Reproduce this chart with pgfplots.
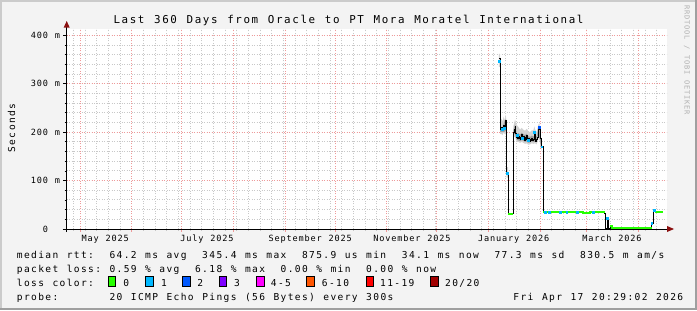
\documentclass[border=0pt]{standalone}
\usepackage{pgfplots}
\pgfplotsset{compat=1.18}
\usepackage{fontspec}
\setmainfont{DejaVu Sans Mono}
\ExplSyntaxOn
\dim_new:N \l_mono_pitch_dim
\cs_new_protected:Npn \mono #1#2
  {
    \dim_set:Nn \l_mono_pitch_dim {#1}
    \exp_args:No \tl_map_inline:nn {#2} { \makebox[\l_mono_pitch_dim][c]{##1} }
  }
\ExplSyntaxOff
\newcommand\TF{\fontsize{10.9pt}{12pt}\selectfont}
\newcommand\LF{\fontsize{9.6pt}{11pt}\selectfont}
\newcommand\AF{\fontsize{8.6pt}{10pt}\selectfont}
\newcommand\WF{\fontsize{7.03pt}{8pt}\selectfont}
\definecolor{bg}{HTML}{F3F3F3}
\definecolor{shA}{HTML}{CBCBCB}
\definecolor{shB}{HTML}{9F9F9F}
\definecolor{mgrid}{HTML}{EE9A9A}
\definecolor{mingrid}{HTML}{C8C8C8}
\definecolor{arrowc}{HTML}{8B1010}
\definecolor{wmc}{HTML}{B0B0B0}
\definecolor{c0}{HTML}{26FF00}
\definecolor{c1}{HTML}{00B8FF}
\definecolor{c2}{HTML}{0059FF}
\definecolor{c3}{HTML}{7E00FF}
\definecolor{c4}{HTML}{FF00FF}
\definecolor{c6}{HTML}{FF5500}
\definecolor{c11}{HTML}{FF0000}
\definecolor{c20}{HTML}{A10000}
\definecolor{smokeA}{HTML}{D2D2D2}
\definecolor{smokeB}{HTML}{A0A0A0}

\pgfplotstableread{
day ms
259.4 352
260.1 205
260.7 209
261.3 204
261.9 213
262.5 207
263.2 224
263.6 209
264.0 117
264.9 32
268.0 199
268.5 205
269.0 212
269.5 198
270.0 190
270.5 188
271.0 192
271.5 186
272.0 190
272.5 184
273.0 195
273.5 188
274.0 191
274.5 183
275.0 190
275.5 185
276.0 193
276.5 182
277.0 187
277.5 181
278.0 185
278.5 183
279.0 188
279.5 182
280.0 184
280.5 202
281.0 186
281.5 181
282.0 184
282.5 190
283.0 206
283.5 212
284.1 186
284.7 171
285.8 35
309.5 33.5
314.0 35
322.9 33
323.3 1.5
324.3 22
324.9 1.5
326.0 6
327.3 3
351.0 12
351.8 36
352.6 39
353.2 35
358.0 35
}\median

\begin{document}
\begin{tikzpicture}[x=1bp,y=1bp]
\path[use as bounding box] (0,0) rectangle (697,310);
\fill[bg] (0,0) rectangle (697,310);
\fill[shA] (0,0) rectangle (2,310);
\fill[shA] (0,308) rectangle (697,310);
\fill[shB] (694.5,0) rectangle (697,310);
\fill[shB] (0,0) rectangle (697,2.5);

\begin{axis}[
  at={(66.7bp,81bp)}, anchor=south west,
  scale only axis, width=600bp, height=200bp,
  xmin=0, xmax=360, ymin=0, ymax=413.2,
  axis line style={draw=none},
  major tick length=0pt, minor tick length=0pt,
  axis background/.style={fill=white},
  grid=both,
  major grid style={mgrid, line width=1bp, dash pattern=on 1bp off 1.5bp},
  minor grid style={mingrid, line width=1bp, dash pattern=on 1bp off 1.5bp},
  xtick={8.15,39.15,69.15,100.15,131.15,161.15,192.15,222.15,253.15,284.15,312.15,343.15},
  xticklabels={},
  minor xtick={4.15,11.15,...,354.15},
  extra x ticks={23.15,84.15,146.15,207.15,268.15,327.15},
  extra x tick labels={\mono{6bp}{May~2025},\mono{6bp}{July~2025},\mono{6bp}{September~2025},\mono{6bp}{November~2025},\mono{6bp}{January~2026},\mono{6bp}{March~2026}},
  extra x tick style={grid=none, xticklabel style={anchor=base, inner sep=0pt, yshift=-12bp, font=\AF}},
  ytick={0,100,200,300,400},
  yticklabels={\mono{6bp}{0~~},\mono{6bp}{100~m},\mono{6bp}{200~m},\mono{6bp}{300~m},\mono{6bp}{400~m}},
  minor ytick={20,40,...,400},
  yticklabel style={anchor=east, inner sep=0pt, xshift=-6bp, font=\AF},
]
% smoke (spread of the pings)
\addplot[fill=smokeA, draw=none] coordinates {
 (259.3,335) (259.3,362) (260.0,362) (260.1,225) (260.8,228) (261.5,222) (262.2,232) (262.9,224) (263.3,236) (263.8,226)
 (263.9,128) (264.8,128) (264.8,106) (263.9,106) (263.8,195) (263.0,196) (262.2,199) (261.4,194) (260.6,197) (260.0,196) (260.0,335)} -- cycle;
\addplot[fill=smokeA, draw=none] coordinates {
 (268.0,212) (269.0,226) (270.0,215) (271.0,211) (272.0,205) (273.0,209) (274.0,205) (275.0,203) (276.0,207) (277.0,202)
 (278.0,200) (279.0,204) (280.0,204) (280.6,212) (281.0,206) (282.0,200) (283.0,215) (283.6,219) (284.2,200) (284.8,184)
 (284.8,160) (284.2,176) (283.5,190) (283.0,186) (282.0,175) (281.0,177) (280.0,176) (279.0,177) (278.0,175) (277.0,174)
 (276.0,177) (275.0,176) (274.0,178) (273.0,180) (272.0,178) (271.0,180) (270.0,182) (269.0,190) (268.0,190)} -- cycle;
\addplot[fill=smokeB, draw=none] coordinates {
 (268.0,204) (269.0,216) (270.0,196) (271.0,198) (272.0,195) (273.0,199) (274.0,196) (275.0,194) (276.0,197) (277.0,192)
 (278.0,190) (279.0,193) (280.0,191) (281.0,194) (282.0,191) (283.0,210) (284.0,205) (284.6,178)
 (284.6,166) (284.0,182) (283.0,200) (282.0,180) (281.0,180) (280.0,180) (279.0,181) (278.0,179) (277.0,178)
 (276.0,181) (275.0,180) (274.0,182) (273.0,184) (272.0,181) (271.0,183) (270.0,184) (269.0,196) (268.0,196)} -- cycle;
\addplot[fill=smokeB, draw=none] coordinates {
 (260.1,212) (261.5,210) (262.2,218) (263.3,228) (263.8,214) (263.8,203) (262.6,201) (261.3,200) (260.1,201)} -- cycle;
% median line
\addplot[black, line width=1bp, const plot] table[x=day, y=ms] {\median};
% loss colour: 0
\addplot[c0, line width=2bp] coordinates {(264.9,32) (268.0,32)};
\addplot[c0, line width=2bp, const plot] coordinates {(285.8,35) (309.5,33.5) (314.0,35) (322.9,35)};
\addplot[c0, line width=2bp, const plot] coordinates {(326.0,6) (327.3,3) (351.0,3)};
\addplot[c0, line width=2bp] coordinates {(353.2,35) (358.0,35)};
% loss colour: 1
\addplot[only marks, mark=square*, mark size=0.9bp, color=c1] coordinates {
 (259.6,346) (261.3,207) (262.4,208) (264.1,116) (270.2,194) (273.2,188)
 (276.8,184) (280.6,200) (285.0,170) (287.0,35) (289.5,35) (296.0,35)
 (300.0,35) (306.5,35) (316.0,35) (324.3,22) (351.0,12) (352.6,39)};
% loss colour: 2
\addplot[only marks, mark=square*, mark size=0.9bp, color=c2] coordinates {(283.4,211)};
\end{axis}

% axes, ticks, arrows
\foreach \d in {4.15,11.15,...,354.15} \draw[mingrid, line width=1bp] ({66.7+\d*1.66667},81) -- ({66.7+\d*1.66667},79);
\foreach \d in {8.15,39.15,69.15,100.15,131.15,161.15,192.15,222.15,253.15,284.15,312.15,343.15}
  \draw[mgrid, line width=1bp] ({66.7+\d*1.66667},81) -- ({66.7+\d*1.66667},78);
\foreach \v in {20,40,...,400} \draw[black, line width=0.8bp] (64.7,{81+\v*0.484}) -- (66.7,{81+\v*0.484});
\foreach \v in {100,200,300,400} \draw[black, line width=0.8bp] (63.2,{81+\v*0.484}) -- (66.7,{81+\v*0.484});
\draw[black, line width=1bp] (62.5,81) -- (668,81);
\draw[black, line width=1bp] (66.7,78) -- (66.7,283);
\fill[arrowc] (667,84) -- (674,81) -- (667,78) -- cycle;
\fill[arrowc] (63.7,282.5) -- (66.7,289) -- (69.7,282.5) -- cycle;

% title, axis title, watermark
\node[anchor=base, inner sep=0pt] at (348.5,310-23.3) {\TF\mono{8.13bp}{Last~360~Days~from~Oracle~to~PT~Mora~Moratel~International}};
\node[anchor=base, inner sep=0pt, rotate=90] at (15,310-128) {\LF\mono{7.13bp}{Seconds}};
\node[anchor=base west, inner sep=0pt, rotate=-90, text=wmc] at (684.5,310-5) {\WF\mono{5bp}{RRDTOOL~/~TOBI~OETIKER}};

% legend
\node[anchor=base west, inner sep=0pt] at (16,310-258.3) {\LF\mono{7.13bp}{median~rtt:~~64.2~ms~avg~~345.4~ms~max~~875.9~us~min~~34.1~ms~now~~77.3~ms~sd~~830.5~m~am/s}};
\node[anchor=base west, inner sep=0pt] at (16,310-272.3) {\LF\mono{7.13bp}{packet~loss:~0.59~\%~avg~~6.18~\%~max~~0.00~\%~min~~0.00~\%~now}};
\node[anchor=base west, inner sep=0pt] at (16,310-286.3) {\LF\mono{7.13bp}{loss~color:}};
\foreach \bx/\col in {108.3/c0, 145.7/c1, 182.7/c2, 219.3/c3, 256.7/c4, 306.7/c6, 366.0/c11, 430.7/c20} {
  \filldraw[fill=\col, draw=black, line width=0.8bp] (\bx,310-286.3) rectangle (\bx+7.5,310-276.8);
}
\node[anchor=base west, inner sep=0pt] at (122.6,310-286.3) {\LF\mono{7.13bp}{0}};
\node[anchor=base west, inner sep=0pt] at (160.3,310-286.3) {\LF\mono{7.13bp}{1}};
\node[anchor=base west, inner sep=0pt] at (196.6,310-286.3) {\LF\mono{7.13bp}{2}};
\node[anchor=base west, inner sep=0pt] at (233.3,310-286.3) {\LF\mono{7.13bp}{3}};
\node[anchor=base west, inner sep=0pt] at (270.0,310-286.3) {\LF\mono{7.13bp}{4-5}};
\node[anchor=base west, inner sep=0pt] at (321.0,310-286.3) {\LF\mono{7.13bp}{6-10}};
\node[anchor=base west, inner sep=0pt] at (379.3,310-286.3) {\LF\mono{7.13bp}{11-19}};
\node[anchor=base west, inner sep=0pt] at (444.3,310-286.3) {\LF\mono{7.13bp}{20/20}};
\node[anchor=base west, inner sep=0pt] at (16,310-300.3) {\LF\mono{7.13bp}{probe:~~~~~~~20~ICMP~Echo~Pings~(56~Bytes)~every~300s}};
\node[anchor=base west, inner sep=0pt] at (512.6,310-300.3) {\LF\mono{7.13bp}{Fri~Apr~17~20:29:02~2026}};
\end{tikzpicture}
\end{document}
